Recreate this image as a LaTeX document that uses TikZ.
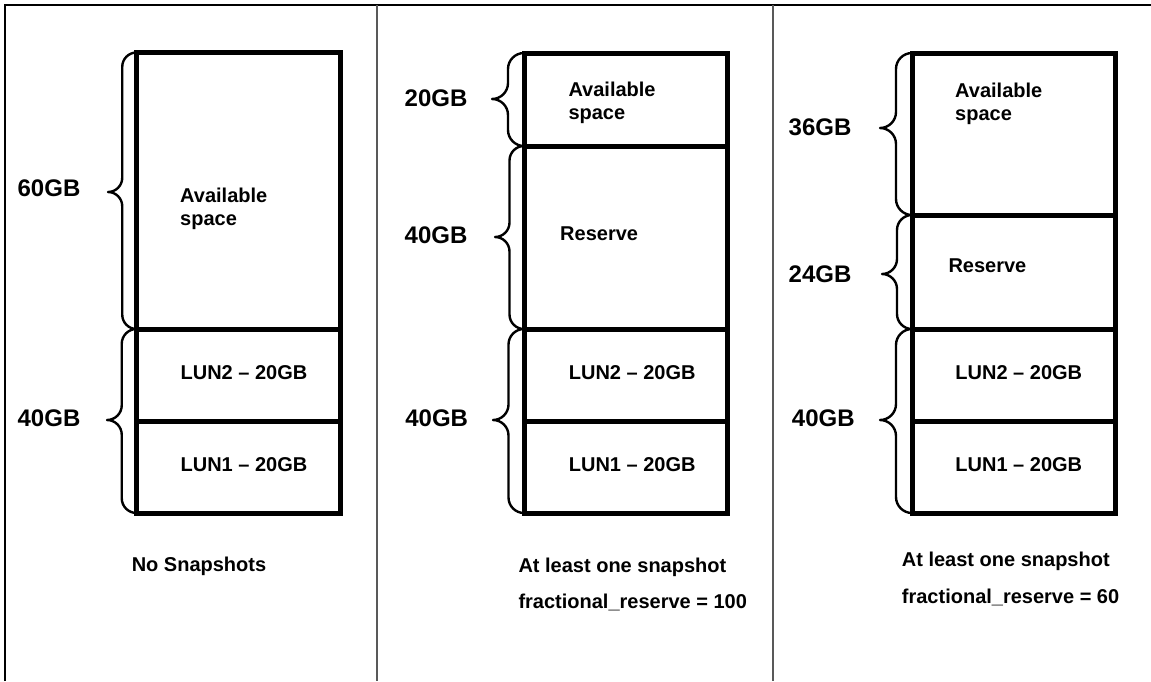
\documentclass[tikz,border=0pt]{standalone}
\usepackage{fontspec}
\setmainfont{Liberation Sans}
\newcommand{\mybrace}[5]{%
  \pgfmathsetmacro{\brr}{(#1-#4)/2}%
  \pgfmathsetmacro{\bbx}{#4+\brr}%
  \pgfmathsetmacro{\bkk}{0.552*\brr}%
  \draw[brc] (#1,#2) .. controls ({#1-\bkk},#2) and (\bbx,{#2+\brr-\bkk}) .. (\bbx,{#2+\brr})
    -- (\bbx,{#5-\brr}) .. controls (\bbx,{#5-\brr+\bkk}) and ({#4+\bkk},#5) .. (#4,#5)
    .. controls ({#4+\bkk},#5) and (\bbx,{#5+\brr-\bkk}) .. (\bbx,{#5+\brr})
    -- (\bbx,{#3-\brr}) .. controls (\bbx,{#3-\brr+\bkk}) and ({#1-\bkk},#3) .. (#1,#3);}
\begin{document}
\begin{tikzpicture}[x=1pt,y=-1pt,
  frame/.style={line width=2.5pt,black},
  sep/.style={line width=1.6pt,black!65},
  box/.style={line width=5pt,black},
  brc/.style={line width=2.4pt,black,line join=round},
  lbl/.style={font=\fontsize{20}{23}\selectfont\bfseries,inner sep=0pt},
  gb/.style={font=\fontsize{24}{26}\selectfont\bfseries,inner sep=0pt,anchor=base},
]
\useasboundingbox (0,0) rectangle (1151,681);
% frame and separators
\draw[frame] (5,681) -- (5,5) -- (1151,5);
\draw[sep] (377,5) -- (377,681);
\draw[sep] (773,5) -- (773,681);

% ---- column 1
\draw[box] (136.5,52.5) rectangle (340.5,513);
\draw[box] (136.5,329) -- (340.5,329);
\draw[box] (136.5,421.5) -- (340.5,421.5);
\mybrace{136.5}{52.5}{329}{108}{192}
\mybrace{136.5}{329}{513}{107}{420}
\node[gb] (g60) at (49,196) {60GB};
\node[gb] (g40a) at (49,426) {40GB};
\node[lbl,anchor=north west,align=left] (avail1) at (180,188.3) {Available\\space};
\node[lbl,anchor=base] (lun2a) at (244,379) {LUN2 – 20GB};
\node[lbl,anchor=base] (lun1a) at (244,471.7) {LUN1 – 20GB};
\node[lbl,anchor=base] (nosnap) at (199,571.7) {No Snapshots};

% ---- column 2
\draw[box] (524,53) rectangle (727,513);
\draw[box] (524,146) -- (727,146);
\draw[box] (524,329) -- (727,329);
\draw[box] (524,421.5) -- (727,421.5);
\mybrace{524}{53}{146}{492}{99}
\mybrace{524}{146}{329}{495}{237}
\mybrace{524}{329}{513}{493}{420}
\node[gb] (g20b) at (436,106.7) {20GB};
\node[gb] (g40b) at (436,243) {40GB};
\node[gb] (g40c) at (436.7,426) {40GB};
\node[lbl,anchor=north west,align=left] (avail2) at (568.3,81.7) {Available\\space};
\node[lbl,anchor=base west] (res2) at (560,240.7) {Reserve};
\node[lbl,anchor=base] (lun2b) at (632.2,379) {LUN2 – 20GB};
\node[lbl,anchor=base] (lun1b) at (632.2,471.7) {LUN1 – 20GB};
\node[lbl,anchor=base west] (snap2) at (518.3,572) {At least one snapshot};
\node[lbl,anchor=base west] (frac2) at (518.3,608.3) {fractional\_reserve = 100};

% ---- column 3
\draw[box] (912,53) rectangle (1115,513);
\draw[box] (912,215) -- (1115,215);
\draw[box] (912,329) -- (1115,329);
\draw[box] (912,421.5) -- (1115,421.5);
\mybrace{912}{53}{215}{880}{128}
\mybrace{912}{215}{329}{882}{274}
\mybrace{912}{329}{513}{880}{420}
\node[gb] (g36c) at (820,135) {36GB};
\node[gb] (g24c) at (820,282.7) {24GB};
\node[gb] (g40d) at (823.3,426) {40GB};
\node[lbl,anchor=north west,align=left] (avail3) at (955,82.7) {Available\\space};
\node[lbl,anchor=base west] (res3) at (948.3,272.7) {Reserve};
\node[lbl,anchor=base] (lun2c) at (1018.8,379) {LUN2 – 20GB};
\node[lbl,anchor=base] (lun1c) at (1018.8,471.7) {LUN1 – 20GB};
\node[lbl,anchor=base west] (snap3) at (901.7,566.7) {At least one snapshot};
\node[lbl,anchor=base west] (frac3) at (901.7,603.3) {fractional\_reserve = 60};
\end{tikzpicture}
\end{document}
